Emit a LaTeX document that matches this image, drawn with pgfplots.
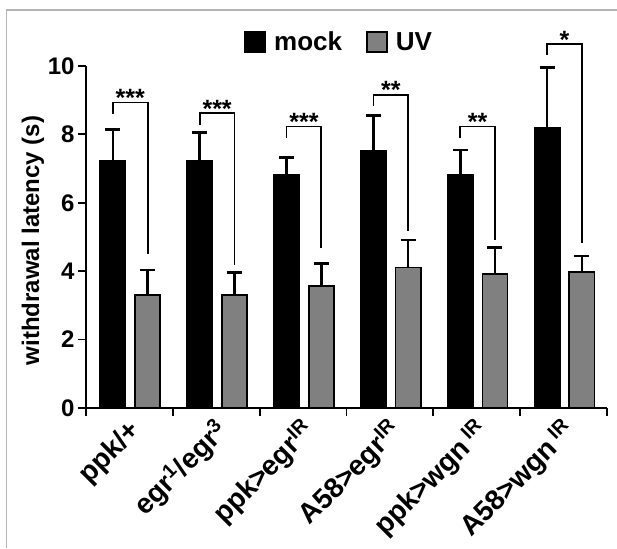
\documentclass[border=0pt]{standalone}
\usepackage{pgfplots}
\pgfplotsset{compat=1.18}
\usepackage{pgfplotstable}
\usepackage{fontspec}
\setmainfont{Liberation Sans}
\newcommand{\TL}{\fontsize{28}{33}\selectfont\bfseries}
\newcommand{\YL}{\fontsize{24}{28}\selectfont\bfseries}

\pgfplotstableread{
x      val   err
-0.19  7.23  0.92
0.81   7.23  0.82
1.81   6.81  0.52
2.81   7.52  1.03
3.81   6.81  0.73
4.81   8.18  1.77
}\mocktable

\pgfplotstableread{
x      val   err
0.21   3.30  0.74
1.21   3.30  0.67
2.21   3.57  0.66
3.21   4.11  0.80
4.21   3.92  0.78
5.21   3.97  0.47
}\uvtable

\definecolor{framegray}{RGB}{180,180,180}
\definecolor{bargray}{RGB}{128,128,128}

\begin{document}
\begin{tikzpicture}
\path[use as bounding box] (0pt,0pt) rectangle (617pt,548pt);
\draw[framegray, line width=1.5pt] (6.7pt,0pt) -- (6.7pt,538pt) -- (617pt,538pt);
\begin{axis}[
  at={(86pt,140pt)}, anchor=south west,
  scale only axis, width=521pt, height=342pt,
  xmin=-0.5, xmax=5.5, ymin=0, ymax=10,
  clip=false,
  axis x line*=bottom, axis y line*=left,
  axis line style={line width=1.8pt, black},
  tick align=outside,
  major tick length=8pt,
  tick style={line width=1.8pt, black},
  xtick={-0.5,0.5,1.5,2.5,3.5,4.5,5.5},
  xticklabels={},
  extra x ticks={0,1,2,3,4,5},
  extra x tick labels={{\TL ppk/+}, {\TL egr\textsuperscript{1}/egr\textsuperscript{3}}, {\TL ppk>egr\textsuperscript{IR}}, {\TL A58>egr\textsuperscript{IR}}, {\TL ppk>wgn\,\textsuperscript{IR}}, {\TL A58>wgn\,\textsuperscript{IR}}},
  extra x tick style={major tick length=0pt},
  xticklabel style={xshift=7pt, yshift=-19pt, rotate=45, anchor=east, inner sep=0pt},
  ytick={0,2,4,6,8,10},
  yticklabels={{\YL 0},{\YL 2},{\YL 4},{\YL 6},{\YL 8},{\YL 10}},
  ylabel={withdrawal latency (s)},
  ylabel style={font=\fontsize{24}{28}\selectfont\bfseries, at={(axis description cs:-0.1017,0.49)}, anchor=center},
  legend style={draw=none, fill=none, at={(axis description cs:0.486,1.07)}, anchor=center,
    font=\fontsize{26}{30}\selectfont\bfseries, legend columns=2,
    /tikz/every odd column/.append style={column sep=6pt},
    /tikz/every even column/.append style={column sep=22pt}},
]
\addplot[ybar, bar width=0.29, bar shift=0pt, fill=black, draw=black, line width=1.8pt,
  legend image code/.code={\draw[fill=black, draw=black, line width=1.8pt] (0pt,-10pt) rectangle (20pt,10pt);},
  error bars/.cd, y dir=plus, y explicit,
  error bar style={line width=2.6pt, black},
  error mark options={rotate=90, line width=2.6pt, black, mark size=7.5pt}]
  table[x=x, y=val, y error=err] {\mocktable};
\addlegendentry{mock}
\addplot[ybar, bar width=0.29, bar shift=0pt, fill=bargray, draw=black, line width=1.8pt,
  legend image code/.code={\draw[fill=bargray, draw=black, line width=1.8pt] (0pt,-10pt) rectangle (20pt,10pt);},
  error bars/.cd, y dir=plus, y explicit,
  error bar style={line width=2.6pt, black},
  error mark options={rotate=90, line width=2.6pt, black, mark size=7.5pt}]
  table[x=x, y=val, y error=err] {\uvtable};
\addlegendentry{UV}
% significance brackets
\addplot[black, line width=1.8pt, mark=none, forget plot] coordinates {(-0.19,8.60) (-0.19,8.93) (0.21,8.93) (0.21,4.50)};
\addplot[black, line width=1.8pt, mark=none, forget plot] coordinates {(0.81,8.27) (0.81,8.62) (1.21,8.62) (1.21,4.18)};
\addplot[black, line width=1.8pt, mark=none, forget plot] coordinates {(1.81,7.89) (1.81,8.23) (2.21,8.23) (2.21,4.69)};
\addplot[black, line width=1.8pt, mark=none, forget plot] coordinates {(2.81,8.83) (2.81,9.16) (3.21,9.16) (3.21,5.18)};
\addplot[black, line width=1.8pt, mark=none, forget plot] coordinates {(3.81,7.89) (3.81,8.23) (4.21,8.23) (4.21,4.91)};
\addplot[black, line width=1.8pt, mark=none, forget plot] coordinates {(4.81,10.32) (4.81,10.64) (5.21,10.64) (5.21,4.83)};
\begin{scope}[every node/.style={font=\fontsize{25}{28}\selectfont\bfseries, anchor=base, inner sep=0pt}]
\node at (axis cs:0.01,8.81) {***};
\node at (axis cs:1.01,8.50) {***};
\node at (axis cs:2.01,8.11) {***};
\node at (axis cs:3.01,9.04) {**};
\node at (axis cs:4.01,8.11) {**};
\node at (axis cs:5.01,10.52) {*};
\end{scope}
\end{axis}
\end{tikzpicture}
\end{document}
